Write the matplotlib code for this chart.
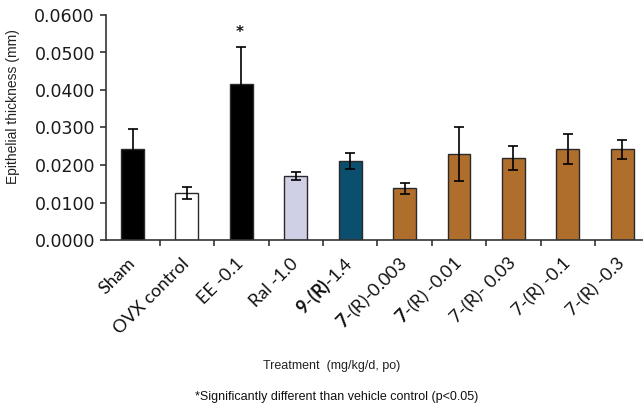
import matplotlib
matplotlib.use("Agg")
import matplotlib.pyplot as plt
import matplotlib.transforms as mtransforms
import numpy as np

categories = ["Sham", "OVX control", "EE -0.1", "Ral -1.0",
              r"$\mathbf{9}$-$\mathbf{(R)}$-1.4", r"$\mathbf{7}$-(R)-0.003",
              r"$\mathbf{7}$-(R) -0.01", "7-(R)- 0.03", "7-(R) -0.1", "7-(R) -0.3"]
values = [0.0243, 0.0125, 0.0415, 0.0171, 0.0211, 0.0138, 0.0229, 0.0219, 0.0242, 0.0242]
errors = [0.0053, 0.0016, 0.0100, 0.0010, 0.0022, 0.0015, 0.0071, 0.0031, 0.0040, 0.0025]
colors = ["#000000", "#ffffff", "#000000", "#cfcfe6", "#0c4e6e",
          "#b06e2c", "#b06e2c", "#b06e2c", "#b06e2c", "#b06e2c"]
yticks = [0.0, 0.01, 0.02, 0.03, 0.04, 0.05, 0.06]
ytick_labels = ["0.0000", "0.0100", "0.0200", "0.0300", "0.0400", "0.0500", "0.0600"]
significant = [2]

plt.rcParams['mathtext.fontset'] = 'custom'
plt.rcParams['mathtext.rm'] = 'Lato'
plt.rcParams['mathtext.bf'] = 'Lato:bold'
plt.rcParams['mathtext.it'] = 'Lato:italic'

fig = plt.figure(figsize=(6.43, 4.03), dpi=100)
ax = fig.add_axes([106/643, 163/403, 537/643, 225/403])

x = np.arange(len(categories))
ax.bar(x, values, width=0.42, color=colors, edgecolor="#2a2a2a", linewidth=1.0, zorder=2)
ax.errorbar(x, values, yerr=errors, fmt='none', ecolor="#000000", elinewidth=1.2,
            capsize=3.6, capthick=1.2, zorder=3)

for i in significant:
    ax.annotate("*", (x[i], values[i] + errors[i]), xytext=(-1, 10), textcoords="offset points",
                ha="center", va="center", fontsize=11, fontweight="bold",
                color="#111111", family="DejaVu Sans")

ax.set_xlim(-0.487, 9.38)
ax.set_ylim(0, 0.06)
ax.set_yticks(yticks)
ax.set_yticklabels(ytick_labels, fontsize=12.5, color="#1a1a1a", family="DejaVu Sans")
ax.set_xticks(x)
ax.set_xticklabels(categories, rotation=45, ha="right", va="center", rotation_mode="anchor",
                   fontsize=13, family="Lato", color="#111111")
shift = mtransforms.ScaledTranslation(-4/72, 2/72, fig.dpi_scale_trans)
for lab in ax.get_xticklabels():
    lab.set_transform(lab.get_transform() + shift)
ax.set_xticks(np.arange(len(categories) - 1) + 0.5, minor=True)
ax.tick_params(axis='x', which='major', length=0, pad=15)
ax.tick_params(axis='x', which='minor', length=4, width=1.2, color="#333333", direction='out')
ax.tick_params(axis='y', length=4, width=1.2, color="#333333", direction='out', pad=4)

for s in ["top", "right"]:
    ax.spines[s].set_visible(False)
for s in ["left", "bottom"]:
    ax.spines[s].set_color("#333333")
    ax.spines[s].set_linewidth(1.2)

fig.text(13/643, 1 - 107/403, "Epithelial thickness (mm)", rotation=90, ha="center", va="center",
         fontsize=10, family="Liberation Sans", color="#222222")
fig.text(332/643, 1 - 366/403, "Treatment  (mg/kg/d, po)", ha="center", va="center",
         fontsize=9, family="Liberation Sans", color="#222222")
fig.text(337/643, 1 - 397/403, "*Significantly different than vehicle control (p<0.05)",
         ha="center", va="center", fontsize=9, family="Liberation Sans", color="#111111")

fig.savefig("out.png", dpi=100)
